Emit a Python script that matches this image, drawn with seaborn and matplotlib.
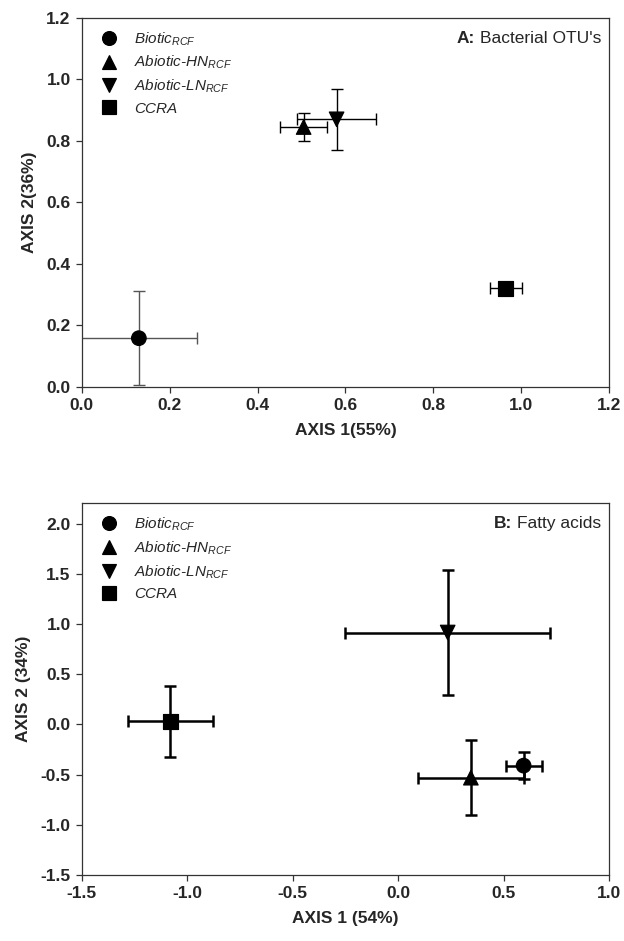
import numpy as np
import pandas as pd
import matplotlib
matplotlib.use('Agg')
import matplotlib.pyplot as plt
import seaborn as sns

sns.set_style('ticks')
plt.rcParams['font.family'] = ['Liberation Sans', 'DejaVu Sans']
plt.rcParams['mathtext.fontset'] = 'custom'
plt.rcParams['mathtext.it'] = 'Liberation Sans:italic'
plt.rcParams['mathtext.rm'] = 'Liberation Sans'
plt.rcParams['mathtext.bf'] = 'Liberation Sans:bold'

groups = ['Biotic', 'Abiotic-HN', 'Abiotic-LN', 'CCRA']
legend_labels = [r'Biotic$_{RCF}$', r'Abiotic-HN$_{RCF}$', r'Abiotic-LN$_{RCF}$', 'CCRA']
markers = {'Biotic': 'o', 'Abiotic-HN': '^', 'Abiotic-LN': 'v', 'CCRA': 's'}

# panel A: bacterial OTU's
a_x = [0.13, 0.505, 0.58, 0.965]
a_y = [0.158, 0.845, 0.87, 0.32]
a_xerr = [0.133, 0.053, 0.09, 0.037]
a_yerr = [0.152, 0.045, 0.10, 0.008]
a_ecolor = ['#555555', 'black', 'black', 'black']

# panel B: fatty acids
b_x = [0.595, 0.345, 0.235, -1.08]
b_y = [-0.41, -0.53, 0.915, 0.03]
b_xerr = [0.085, 0.25, 0.485, 0.2]
b_yerr = [0.135, 0.375, 0.62, 0.35]
b_ecolor = ['black', 'black', 'black', 'black']


def draw_panel(ax, x, y, xerr, yerr, ecolor, elw, tag, title, xlabel, ylabel,
               xlim, ylim, xticks, yticks):
    df = pd.DataFrame({'x': x, 'y': y, 'group': groups})
    for i in range(len(df)):
        ax.errorbar(x[i], y[i], xerr=xerr[i], yerr=yerr[i], fmt='none',
                    ecolor=ecolor[i], elinewidth=elw, capsize=4, capthick=elw,
                    zorder=2)
    sns.scatterplot(data=df, x='x', y='y', style='group', markers=markers,
                    style_order=groups, color='black', edgecolor='black',
                    s=110, ax=ax, zorder=3, legend=True)
    handles, _ = ax.get_legend_handles_labels()
    for h in handles:
        h.set_markersize(10)
    ax.legend(handles[-4:], legend_labels, loc='upper left', frameon=False,
              prop={'style': 'italic', 'size': 11}, labelspacing=0.42,
              handletextpad=0.6, borderaxespad=0.3, borderpad=0.5)
    # panel tag: bold "A:" followed by plain title
    t = ax.text(0.985, 0.965, title, transform=ax.transAxes,
                ha='right', va='top', fontsize=12.5)
    ax.annotate(tag + ':', xy=(0, 0), xycoords=t, xytext=(-3.5, 0),
                textcoords='offset points', ha='right', va='bottom',
                fontsize=12.5, fontweight='bold')
    ax.set_xlim(xlim)
    ax.set_ylim(ylim)
    ax.set_xticks(xticks)
    ax.set_yticks(yticks)
    ax.xaxis.set_major_formatter(matplotlib.ticker.FormatStrFormatter('%.1f'))
    ax.yaxis.set_major_formatter(matplotlib.ticker.FormatStrFormatter('%.1f'))
    ax.set_xlabel(xlabel, fontsize=12.5, fontweight='bold', labelpad=7)
    ax.set_ylabel(ylabel, fontsize=12.5, fontweight='bold', labelpad=7)
    for lab in ax.get_xticklabels() + ax.get_yticklabels():
        lab.set_fontweight('bold')
        lab.set_fontsize(12.5)
    for sp in ax.spines.values():
        sp.set_visible(True)
        sp.set_color('#333333')
        sp.set_linewidth(0.9)
    ax.tick_params(direction='out', length=4, width=0.9, color='#333333',
                   top=False, right=False, pad=4)


fig = plt.figure(figsize=(6.24, 9.41), dpi=100)
ax1 = fig.add_axes([0.131, 0.589, 0.845, 0.392])
ax2 = fig.add_axes([0.131, 0.070, 0.845, 0.395])

draw_panel(ax1, a_x, a_y, a_xerr, a_yerr, a_ecolor, 1.0, 'A', "Bacterial OTU's",
           'AXIS 1(55%)', 'AXIS 2(36%)', (0, 1.2), (0, 1.2),
           np.arange(0, 1.21, 0.2), np.arange(0, 1.21, 0.2))
draw_panel(ax2, b_x, b_y, b_xerr, b_yerr, b_ecolor, 1.8, 'B', 'Fatty acids',
           'AXIS 1 (54%)', 'AXIS 2 (34%)', (-1.5, 1.0), (-1.5, 2.2),
           np.arange(-1.5, 1.01, 0.5), np.arange(-1.5, 2.01, 0.5))

fig.savefig('out.png', dpi=100)
